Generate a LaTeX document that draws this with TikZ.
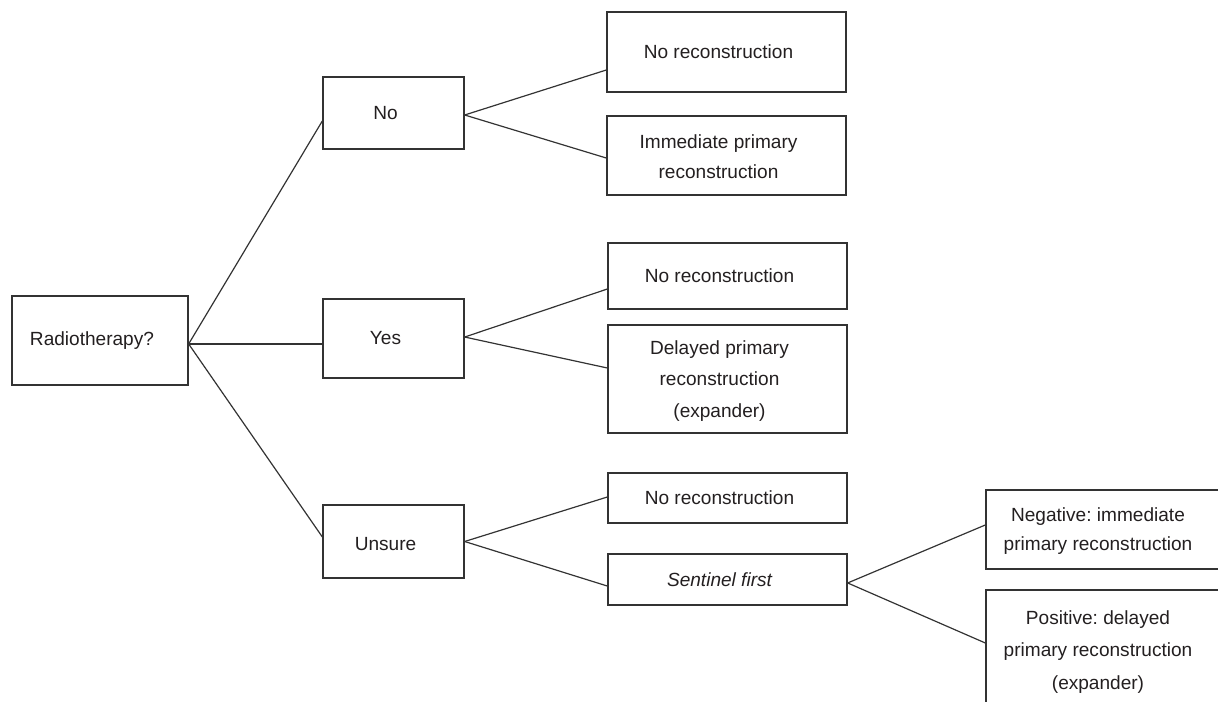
\documentclass[tikz,border=0pt]{standalone}
\usepackage{fontspec}
\setmainfont{Liberation Sans}
\frenchspacing
\definecolor{linegray}{HTML}{333333}
\definecolor{textgray}{HTML}{231F20}
\begin{document}
\begin{tikzpicture}[x=0.75pt,y=-0.75pt,
  box/.style={draw=linegray, line width=1pt, rectangle, inner sep=0pt},
  txt/.style={inner sep=0pt, align=center, xshift=-6pt,
    font=\fontsize{14.3}{22}\selectfont, text=textgray},
  link/.style={draw=linegray, line width=0.9pt}]
\useasboundingbox (0,0) rectangle (1218,702);
\clip (0,0) rectangle (1218,702);
% level 0
\node[box, minimum width=132pt, minimum height=66.75pt,
  label={[txt]center:Radiotherapy?}] (radio) at (100,340.5) {};
% level 1
\node[box, minimum width=105.75pt, minimum height=54pt,
  label={[txt]center:No}] (no) at (393.5,113) {};
\node[box, minimum width=105.75pt, minimum height=59.25pt,
  label={[txt]center:Yes}] (yes) at (393.5,338.5) {};
\node[box, minimum width=105.75pt, minimum height=54.75pt,
  label={[txt, yshift=-2pt]center:Unsure}] (unsure) at (393.5,541.5) {};
% level 2
\node[box, minimum width=179.25pt, minimum height=60pt,
  label={[txt]center:No reconstruction}] (nr1) at (726.5,52) {};
\node[box, minimum width=179.25pt, minimum height=59.25pt,
  label={[txt, yshift=-1pt]center:{Immediate primary\\reconstruction}}] (imm) at (726.5,155.5) {};
\node[box, minimum width=179.25pt, minimum height=49.5pt,
  label={[txt]center:No reconstruction}] (nr2) at (727.5,276) {};
\node[box, minimum width=179.25pt, minimum height=81pt,
  label={[txt, yshift=-1.5pt, font=\fontsize{14.3}{23.6}\selectfont]center:{Delayed primary\\reconstruction\\(expander)}}] (del) at (727.5,379) {};
\node[box, minimum width=179.25pt, minimum height=37.5pt,
  label={[txt]center:No reconstruction}] (nr3) at (727.5,498) {};
\node[box, minimum width=179.25pt, minimum height=38.25pt,
  label={[txt, font=\fontsize{14.3}{22}\itshape]center:Sentinel first}] (sent) at (727.5,579.5) {};
% level 3 (cut off at the picture edge)
\node[box, minimum width=180pt, minimum height=59.25pt,
  label={[txt, yshift=-1pt]center:{Negative: immediate\\primary reconstruction}}] (neg) at (1106,529.5) {};
\node[box, minimum width=180pt, minimum height=90pt,
  label={[txt, font=\fontsize{14.3}{24.4}\selectfont, yshift=-1.5pt]center:{Positive: delayed\\primary reconstruction\\(expander)}}] (pos) at (1106,650) {};
% connectors
\draw[link] ([yshift=-2.6pt]radio.east) -- ([yshift=-6pt]no.west);
\draw[link] ([yshift=-2.6pt]radio.east) -- ([yshift=-4.1pt]yes.west);
\draw[link] ([yshift=-2.6pt]radio.east) -- ([yshift=3.4pt]unsure.west);
\draw[link] ([yshift=-1.5pt]no.east) -- ([yshift=-13.5pt]nr1.west);
\draw[link] ([yshift=-1.5pt]no.east) -- ([yshift=-1.9pt]imm.west);
\draw[link] ([yshift=1.1pt]yes.east) -- ([yshift=-9.75pt]nr2.west);
\draw[link] ([yshift=1.1pt]yes.east) -- ([yshift=8.25pt]del.west);
\draw[link] (unsure.east) -- ([yshift=0.75pt]nr3.west);
\draw[link] (unsure.east) -- ([yshift=-4.9pt]sent.west);
\draw[link] ([yshift=-2.6pt]sent.east) -- ([yshift=3.4pt]neg.west);
\draw[link] ([yshift=-2.6pt]sent.east) -- ([yshift=5.25pt]pos.west);
\end{tikzpicture}
\end{document}
